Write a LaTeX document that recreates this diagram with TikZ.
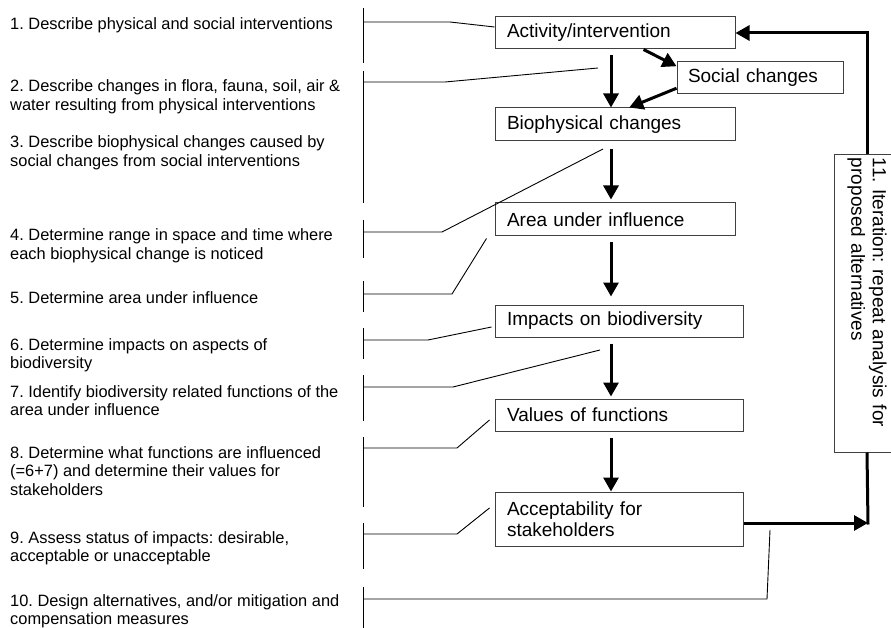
\documentclass[tikz,border=0pt]{standalone}
\usepackage{fontspec}
\setmainfont{Liberation Sans}
\frenchspacing
\usetikzlibrary{shapes,arrows.meta}

\begin{document}
\begin{tikzpicture}[x=1pt, y=-1pt]
\tikzstyle{boxr}=[rectangle, draw=black!75, line width=1pt, inner xsep=12pt, align=left, minimum height=32pt, font=\fontsize{19}{21.5}\selectfont]
\tikzstyle{textl}=[anchor=base west, align=left, inner sep=0pt, font=\fontsize{16.4}{18.5}\selectfont]
\tikzstyle{drawstyle}=[line width=3pt, -{Triangle[length=14pt,width=15pt]}]
\tikzstyle{linestyle}=[line width=0.9pt]

\useasboundingbox (0,0) rectangle (891,628);

% steps on the left (placed by the baseline of their last line)
\node[textl] (Txt1) at (10,30) {1. Describe physical and social interventions};
\node[textl] (Txt2) at (10,110.5) {2. Describe changes in flora, fauna, soil, air \&\\water resulting from physical interventions};
\node[textl] (Txt3) at (10,166.5) {3. Describe biophysical changes caused by\\social changes from social interventions};
\node[textl] (Txt4) at (10,259.5) {4. Determine range in space and time where\\each biophysical change is noticed};
\node[textl] (Txt5) at (10,303) {5. Determine area under influence};
\node[textl] (Txt6) at (10,368.5) {6. Determine impacts on aspects of\\biodiversity};
\node[textl] (Txt7) at (10,415.5) {7. Identify biodiversity related functions of the\\area under influence};
\node[textl] (Txt8) at (10,495) {8. Determine what functions are influenced\\(=6+7) and determine their values for\\stakeholders};
\node[textl] (Txt9) at (10,561.5) {9. Assess status of impacts: desirable,\\acceptable or unacceptable};
\node[textl] (Txt10) at (10,624.5) {10. Design alternatives, and/or mitigation and\\compensation measures};

% flow
\node[boxr, text width=216pt] (Act) at (615,33) {Activity/intervention};
\node[boxr, text width=144pt, inner xsep=11pt] (Soc) at (760,78) {Social changes};
\node[boxr, text width=216pt, minimum height=33pt] (Bio) at (615,124.5) {Biophysical changes};
\node[boxr, text width=216pt, minimum height=33pt] (Area) at (615,219.5) {Area under influence};
\node[boxr, text width=224pt] (Imp) at (619,321) {Impacts on biodiversity};
\node[boxr, text width=224pt] (Val) at (619,415) {Values of functions};
\node[boxr, text width=224pt, minimum height=54pt] (Acc) at (619,519) {Acceptability for\\stakeholders};
\node[boxr, draw=none, rotate=-90, text width=291pt, inner xsep=3pt, minimum height=66pt] (Iter) at (867,303.5) {11. Iteration: repeat analysis for\\proposed alternatives};
% the frame runs off the right edge, so it has no right side
\draw[draw=black!75, line width=1pt] (891,155) -| (834,452) -- (891,452);

\coordinate (Axis) at (611,0);
\coordinate (Turn) at (868,523);
\coordinate (M1) at (598,68);
\coordinate (M2) at (603,149);
\coordinate (M3) at (600,350);
\coordinate (M4) at (770,530);

\draw[drawstyle, shorten <=6pt] (Act.south -| Axis) -- (Bio.north -| Axis);
\draw[drawstyle, shorten <=8pt, shorten >=3pt] (Bio.south -| Axis) -- (Area.north -| Axis);
\draw[drawstyle, shorten <=6pt, shorten >=8pt] (Area.south -| Axis) -- (Imp.north -| Axis);
\draw[drawstyle, shorten <=6pt, shorten >=2pt] (Imp.south -| Axis) -- (Val.north -| Axis);
\draw[drawstyle, shorten <=6pt] (Val.south -| Axis) -- (Acc.north -| Axis);
\draw[drawstyle] (Act.-30) -- (Soc.172);
\draw[drawstyle] (Soc.187) -- (Bio.50);
\draw[drawstyle] (Acc.east |- Turn) -- (Turn);
\draw[line width=3pt] (Iter.east) -- ([yshift=-1.5pt]Turn);
\draw[drawstyle] (Iter.west) |- (Act.east);

% brackets and leaders
\foreach \ya/\yb in {8/63, 71/203, 220/258, 281/312, 328/359, 375/421, 437/507, 523/569, 587/628}
  \draw[linestyle] (363,\ya) -- (363,\yb);
\coordinate (K1) at (363,22);
\coordinate (K2) at (363,82);
\coordinate (K4) at (363,232);
\coordinate (K5) at (363,294);
\coordinate (K6) at (363,340);
\coordinate (K7) at (363,387);
\coordinate (K8) at (363,448);
\coordinate (K9) at (363,534);
\coordinate (K10) at (363,599);
\draw[linestyle] (K1) -- ++(87,0) -- ([yshift=6pt]Act.west);
\draw[linestyle] (K2) -- ++(82,0) -- (M1);
\draw[linestyle] (K4) -- ++(79,0) -- (M2);
\draw[linestyle] (K5) -- ++(89,0) -- ([xshift=-8pt,yshift=-2pt]Area.south west);
\draw[linestyle] (K6) -- ++(65,0) -- ([xshift=-3pt,yshift=-6pt]Imp.west);
\draw[linestyle] (K7) -- ++(90,0) -- (M3);
\draw[linestyle] (K8) -- ++(94,0) -- ([xshift=-5pt,yshift=-5pt]Val.west);
\draw[linestyle] (K9) -- ++(94,0) -- ([xshift=-5pt,yshift=11pt]Acc.west);
\draw[linestyle] (K10) -- ++(404,0) -- (M4);
\end{tikzpicture}
\end{document}
